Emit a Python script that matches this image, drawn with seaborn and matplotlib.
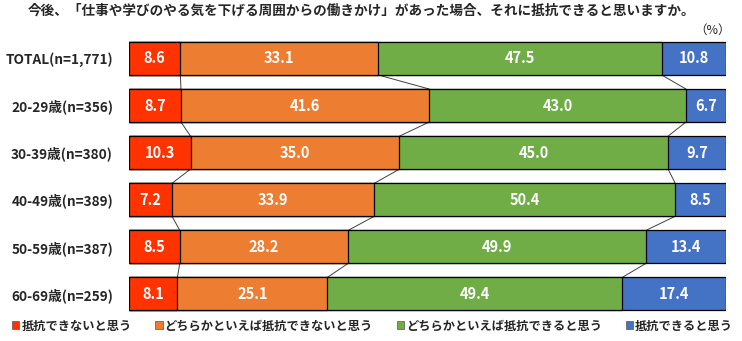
import matplotlib
matplotlib.use("Agg")
import matplotlib.pyplot as plt
from matplotlib.patches import Patch
import numpy as np
import pandas as pd
import seaborn as sns

title = "今後、「仕事や学びのやる気を下げる周囲からの働きかけ」があった場合、それに抵抗できると思いますか。"
groups = ["TOTAL(n=1,771)", "20-29歳(n=356)", "30-39歳(n=380)", "40-49歳(n=389)", "50-59歳(n=387)", "60-69歳(n=259)"]
series_names = ["抵抗できないと思う", "どちらかといえば抵抗できないと思う", "どちらかといえば抵抗できると思う", "抵抗できると思う"]
cannot = [8.6, 8.7, 10.3, 7.2, 8.5, 8.1]
rather_cannot = [33.1, 41.6, 35.0, 33.9, 28.2, 25.1]
rather_can = [47.5, 43.0, 45.0, 50.4, 49.9, 49.4]
can = [10.8, 6.7, 9.7, 8.5, 13.4, 17.4]
colors = ["#FF3300", "#ED7D31", "#70AD47", "#4472C4"]

sns.set_theme(style="white")
plt.rcParams["font.family"] = ["Noto Sans CJK JP", "DejaVu Sans"]

vals = np.array([cannot, rather_cannot, rather_can, can])  # series x groups
cum = np.cumsum(vals, axis=0)

fig = plt.figure(figsize=(7.42, 3.41), dpi=100)
ax = fig.add_axes([0.1739, 0.0688, 0.8045, 0.829])

bar_h = 0.7
for k in range(3, -1, -1):
    df = pd.DataFrame({"group": groups, "value": cum[k]})
    sns.barplot(data=df, x="value", y="group", orient="h", color=colors[k],
                saturation=1, width=bar_h, edgecolor="black", linewidth=0.9,
                ax=ax, zorder=2 + (3 - k))

# value labels
for k in range(4):
    for i in range(len(groups)):
        ax.text(cum[k][i] - vals[k][i] / 2, i, f"{vals[k][i]:.1f}", ha="center", va="center",
                color="white", fontsize=10.5, fontweight="bold", zorder=10)

# series lines
for k in range(3):
    for i in range(len(groups) - 1):
        ax.plot([cum[k][i], cum[k][i + 1]], [i + bar_h / 2, i + 1 - bar_h / 2],
                color="#404040", lw=0.7, zorder=1)

ax.set_xlim(0, 100)
ax.set_ylim(len(groups) - 0.5, -0.5)
ax.set_xlabel("")
ax.set_ylabel("")
ax.set_xticks([])
ax.tick_params(axis="y", length=0, pad=11.5)
for lbl in ax.get_yticklabels():
    lbl.set_fontweight("bold")
    lbl.set_fontsize(9.8)
for s in ax.spines.values():
    s.set_visible(False)

fig.text(0.487, 0.968, title, ha="center", va="center", fontsize=9.8, fontweight="bold")
fig.text(0.985, 0.912, "（%）", ha="right", va="center", fontsize=9)

handles = [Patch(facecolor=c, edgecolor="#555555", linewidth=0.5) for c in colors]
fig.legend(handles, series_names, loc="center", bbox_to_anchor=(0.502, 0.044), ncol=4,
           frameon=False, handlelength=0.6, handleheight=0.6,
           handletextpad=0.15, columnspacing=1.95, borderpad=0,
           prop={"weight": "bold", "size": 8.8})

fig.savefig("out.png", dpi=100)
